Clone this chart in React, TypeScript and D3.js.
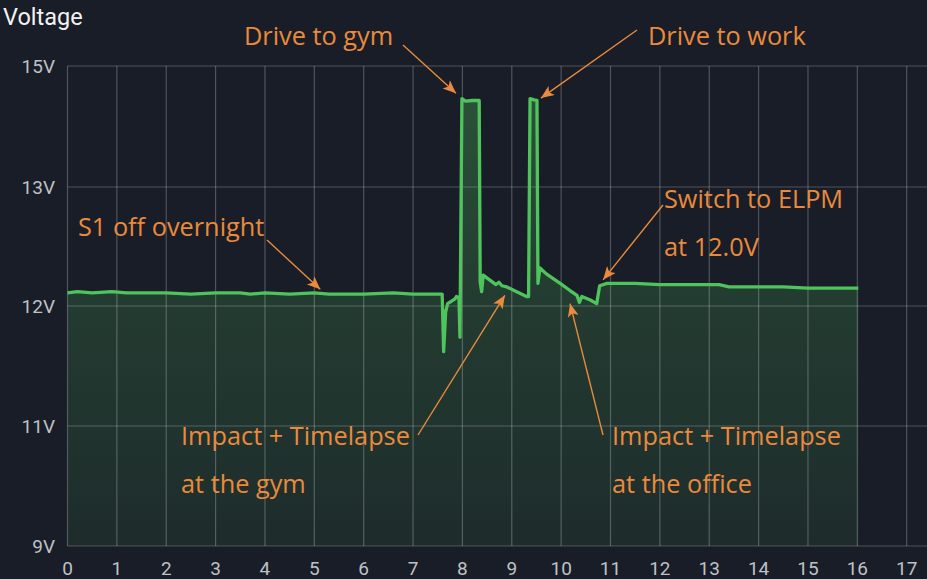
import React, { useEffect, useRef } from 'react'
import * as d3 from 'd3'

// hours since midnight, battery voltage
const hours = [
  0, 0.2, 0.5, 0.9, 1.2, 1.6, 2, 2.5, 3, 3.5, 3.7, 4, 4.5, 5, 5.3, 5.8, 6, 6.6, 7, 7.59,
  7.62, 7.66, 7.7, 7.85, 7.88, 7.93, 7.95, 7.99, 8.06, 8.2, 8.34,
  8.36, 8.39, 8.42, 8.55, 8.68, 8.74, 8.8, 8.9, 9.1, 9.3, 9.34,
  9.37, 9.45, 9.51, 9.53, 9.57, 9.7, 9.98, 10.18, 10.32, 10.37, 10.42, 10.59, 10.72,
  10.78, 10.93, 11.5, 12, 12.5, 13.2, 13.4, 14, 14.5, 15, 15.5, 16.02,
]
const volts = [
  12.11, 12.12, 12.11, 12.12, 12.11, 12.11, 12.11, 12.1, 12.11, 12.11, 12.1, 12.11, 12.1, 12.11, 12.1, 12.1, 12.1, 12.11, 12.1, 12.1,
  11.62, 11.95, 12.02, 12.06, 12.08, 12.07, 11.74, 14.46, 14.42, 14.43, 14.43,
  12.2, 12.12, 12.26, 12.22, 12.18, 12.2, 12.17, 12.16, 12.12, 12.08, 12.08,
  14.46, 14.44, 14.43, 12.19, 12.32, 12.27, 12.19, 12.13, 12.09, 12.03, 12.08, 12.05, 12.02,
  12.17, 12.19, 12.19, 12.18, 12.18, 12.18, 12.16, 12.16, 12.16, 12.15, 12.15, 12.15,
]

const yTicks = [9, 11, 12, 13, 15]
const yTickLabels = ['9V', '11V', '12V', '13V', '15V']
const xTicks = [0, 1, 2, 3, 4, 5, 6, 7, 8, 9, 10, 11, 12, 13, 14, 15, 16, 17]

const noteLines = [
  ['Drive to gym'],
  ['Drive to work'],
  ['S1 off overnight'],
  ['Switch to ELPM', 'at 12.0V'],
  ['Impact + Timelapse', 'at the gym'],
  ['Impact + Timelapse', 'at the office'],
]
// where each arrow points, in data units (hours, volts)
const noteTipHours = [7.87, 9.59, 5.12, 10.85, 8.86, 10.18]
const noteTipVolts = [14.55, 14.47, 12.14, 12.22, 12.09, 12.02]

const W = 927
const H = 579
const ORANGE = '#ea8a3c'
const GREEN = '#4fc45c'

export default function App() {
  const ref = useRef<SVGSVGElement>(null)

  useEffect(() => {
    document.body.style.margin = '0'
    document.body.style.background = '#191d27'
    const svg = d3.select(ref.current)
    svg.selectAll('*').remove()

    const x = d3.scaleLinear().domain([0, 17]).range([67.5, 906.7])
    // uneven voltage ticks sit at even spacing, so the scale is piecewise
    const y = d3.scaleLinear().domain(yTicks).range([546, 426, 306, 187, 66])

    svg.append('rect').attr('width', W).attr('height', H).attr('fill', '#191d27')

    const defs = svg.append('defs')
    const grad = defs.append('linearGradient')
      .attr('id', 'fillGrad')
      .attr('gradientUnits', 'userSpaceOnUse')
      .attr('x1', 0).attr('x2', 0)
      .attr('y1', y(15)).attr('y2', y(9))
    grad.append('stop').attr('offset', 0).attr('stop-color', GREEN).attr('stop-opacity', 0.34)
    grad.append('stop').attr('offset', 0.5).attr('stop-color', GREEN).attr('stop-opacity', 0.18)
    grad.append('stop').attr('offset', 1).attr('stop-color', GREEN).attr('stop-opacity', 0.09)

    defs.append('marker')
      .attr('id', 'arrowHead')
      .attr('viewBox', '0 0 12 10')
      .attr('refX', 12).attr('refY', 5)
      .attr('markerWidth', 15).attr('markerHeight', 11)
      .attr('markerUnits', 'userSpaceOnUse')
      .attr('orient', 'auto')
      .append('path')
      .attr('d', 'M0,0 L12,5 L0,10 L3,5 Z')
      .attr('fill', ORANGE)

    const pts = hours.map((h, i) => [h, volts[i]] as [number, number])

    const area = d3.area<[number, number]>()
      .x(d => x(d[0]))
      .y0(y(9))
      .y1(d => y(d[1]))
    svg.append('path').datum(pts).attr('d', area).attr('fill', 'url(#fillGrad)')

    // grid
    const grid = svg.append('g').attr('stroke', 'rgba(255,255,255,0.24)').attr('stroke-width', 1.2)
    grid.selectAll('line.h').data(yTicks).enter().append('line')
      .attr('x1', x(0)).attr('x2', W)
      .attr('y1', d => y(d)).attr('y2', d => y(d))
    grid.selectAll('line.v').data(xTicks).enter().append('line')
      .attr('x1', d => x(d)).attr('x2', d => x(d))
      .attr('y1', y(15)).attr('y2', y(9))

    const line = d3.line<[number, number]>()
      .x(d => x(d[0]))
      .y(d => y(d[1]))
    svg.append('path').datum(pts).attr('d', line)
      .attr('fill', 'none').attr('stroke', GREEN).attr('stroke-width', 3.3)
      .attr('stroke-linejoin', 'round')

    // axis labels
    const font = 'Roboto, sans-serif'
    svg.append('g').selectAll('text').data(yTicks).enter().append('text')
      .attr('x', 55).attr('y', d => y(d) + 7)
      .attr('text-anchor', 'end')
      .attr('font-family', font).attr('font-size', 19).attr('fill', '#bfc1c6')
      .text((d, i) => yTickLabels[i])
    svg.append('g').selectAll('text').data(xTicks).enter().append('text')
      .attr('x', d => x(d)).attr('y', 575)
      .attr('text-anchor', 'middle')
      .attr('font-family', font).attr('font-size', 19).attr('fill', '#bfc1c6')
      .text(d => String(d))
    svg.append('text').attr('x', 3).attr('y', 25)
      .attr('font-family', font).attr('font-size', 23.5).attr('fill', '#f2f2f2')
      .text('Voltage')

    // annotations: text box position and arrow tail in pixels
    const noteX = [244, 648, 78, 664, 181, 612]
    const noteY = [45, 45, 236, 208, 445, 445]
    const tailX = [403, 637, 267, 663, 418, 603]
    const tailY = [45, 30, 240, 205, 435, 435]
    noteLines.forEach((lines, i) => {
      const t = svg.append('text')
        .attr('font-family', '"Open Sans", sans-serif').attr('font-size', 25.3)
        .attr('fill', ORANGE)
      lines.forEach((s, j) => {
        t.append('tspan').attr('x', noteX[i]).attr('y', noteY[i] + j * 48).text(s)
      })
      svg.append('line')
        .attr('x1', tailX[i]).attr('y1', tailY[i])
        .attr('x2', x(noteTipHours[i])).attr('y2', y(noteTipVolts[i]))
        .attr('stroke', ORANGE).attr('stroke-width', 1.4)
        .attr('marker-end', 'url(#arrowHead)')
    })
  }, [])

  return (
    <svg
      ref={ref}
      width={W}
      height={H}
      style={{ position: 'absolute', left: 0, top: 0, display: 'block' }}
    />
  )
}
